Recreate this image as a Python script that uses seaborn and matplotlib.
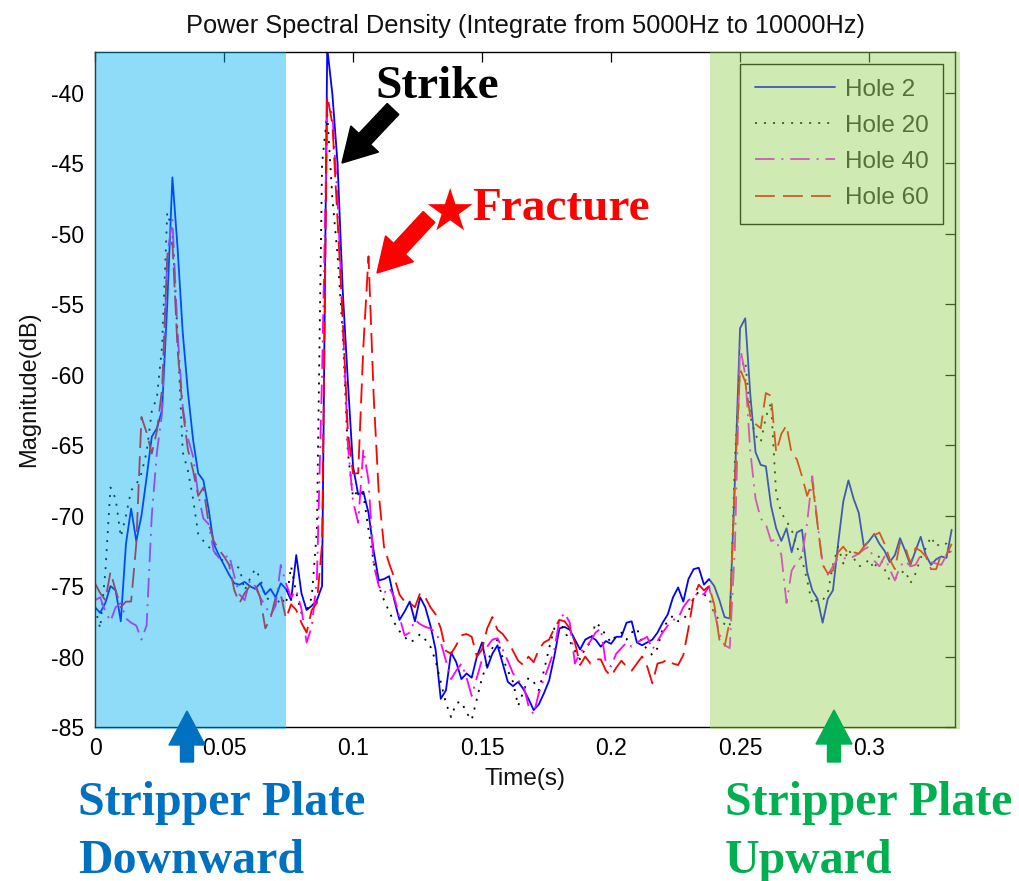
import numpy as np
import pandas as pd
import matplotlib
matplotlib.use("Agg")
import matplotlib.pyplot as plt
import seaborn as sns
from matplotlib.patches import Rectangle, FancyArrow

# ---------------- data (time grid: 0 .. 0.332 s, step 0.002 s) ----------------
time_step = 0.002

hole2 = [
    -76.5, -76.9, -76.2, -75.0, -75.3, -77.5, -72.0, -69.5, -71.8, -70.0,
    -67.3, -64.4, -63.8, -62.5, -55.0, -46.0, -51.0, -57.0, -61.2, -64.6,
    -67.0, -67.5, -69.5, -72.0, -72.8, -73.5, -74.2, -74.8, -74.9, -74.7,
    -75.0, -75.2, -74.8, -75.6, -75.2, -75.8, -74.8, -75.2, -76.0, -72.8,
    -75.5, -76.7, -76.4, -76.0, -75.0, -36.8, -40.1, -45.0, -54.0, -60.5,
    -66.5, -68.5, -68.3, -69.8, -72.5, -74.6, -74.5, -74.3, -76.0, -77.4,
    -76.8, -76.1, -77.5, -75.8, -76.5, -77.8, -79.5, -83.0, -82.4, -79.7,
    -80.4, -81.6, -81.2, -81.5, -80.0, -79.0, -80.8, -79.8, -79.2, -80.5,
    -81.8, -82.1, -81.8, -82.3, -83.0, -83.8, -83.4, -82.6, -81.7, -80.0,
    -78.0, -77.9, -78.1, -78.8, -79.5, -78.8, -78.6, -78.8, -79.3, -78.9,
    -79.1, -78.6, -78.6, -77.6, -77.5, -79.0, -79.2, -79.0, -78.8, -78.3,
    -77.6, -77.0, -75.8, -75.1, -76.1, -74.5, -73.8, -73.7, -74.9, -74.5,
    -75.0, -76.0, -77.2, -77.3, -67.5, -56.7, -56.0, -61.5, -65.5, -66.4,
    -66.5, -69.3, -70.9, -71.8, -70.9, -72.6, -71.2, -71.0, -74.0, -75.3,
    -75.9, -77.6, -75.9, -75.3, -72.0, -69.0, -67.5, -68.8, -69.8, -72.2,
    -71.8, -71.3, -72.0, -72.5, -73.3, -72.8, -71.6, -72.5, -73.5, -72.5,
    -71.5, -72.8, -73.5, -73.1, -72.9, -73.0, -71.0,
]

hole20 = [
    -76.5, -78.0, -74.0, -68.0, -68.8, -71.5, -70.0, -68.2, -67.8, -67.0,
    -65.5, -62.6, -61.6, -58.0, -48.5, -49.8, -57.3, -65.5, -66.8, -68.8,
    -71.3, -71.8, -72.2, -72.6, -72.9, -73.3, -73.5, -73.6, -73.7, -75.3,
    -74.5, -73.8, -74.4, -75.8, -76.0, -76.5, -75.8, -76.3, -73.6, -75.5,
    -76.9, -76.8, -75.8, -71.0, -45.0, -41.5, -47.5, -51.5, -57.0, -65.5,
    -68.7, -68.2, -68.5, -71.0, -73.3, -75.0, -76.0, -76.8, -77.6, -78.2,
    -78.6, -79.0, -78.8, -78.4, -78.8, -79.3, -80.3, -81.8, -83.3, -84.3,
    -83.3, -83.2, -84.0, -84.5, -83.0, -81.5, -80.5, -79.4, -78.8, -80.1,
    -81.0, -81.8, -83.5, -82.5, -81.5, -81.8, -82.4, -81.0, -79.4, -78.0,
    -77.4, -78.2, -78.9, -79.6, -80.2, -79.4, -79.0, -77.6, -77.9, -78.5,
    -79.0, -78.5, -78.3, -78.8, -78.3, -78.0, -79.0, -79.5, -79.9, -79.4,
    -78.0, -77.5, -77.1, -77.5, -77.4, -76.8, -75.8, -75.4, -75.6, -75.8,
    -77.0, -77.4, -77.7, -77.9, -66.0, -59.5, -59.0, -63.0, -64.3, -64.8,
    -63.0, -62.0, -68.5, -69.8, -70.4, -71.0, -72.2, -73.1, -74.6, -76.3,
    -75.9, -76.0, -75.5, -73.5, -72.2, -73.4, -72.4, -73.0, -73.6, -73.5,
    -73.1, -73.8, -72.8, -73.8, -74.6, -74.5, -74.1, -73.9, -74.8, -74.1,
    -73.0, -72.3, -71.5, -72.2, -71.9, -72.0, -73.0,
]

hole40 = [
    -76.0, -75.8, -76.8, -77.5, -76.5, -76.2, -77.3, -77.6, -77.8, -78.8,
    -77.8, -70.0, -65.5, -62.7, -51.5, -49.0, -57.0, -62.3, -64.5, -65.8,
    -68.5, -70.2, -70.6, -72.5, -73.0, -73.0, -72.8, -74.3, -75.6, -76.0,
    -74.6, -75.0, -75.8, -76.4, -77.1, -76.4, -73.5, -74.8, -75.8, -75.3,
    -76.6, -79.0, -77.9, -74.5, -60.0, -40.8, -41.5, -47.5, -56.0, -65.0,
    -69.0, -70.5, -65.3, -67.5, -73.5, -75.0, -75.5, -75.1, -75.8, -77.2,
    -78.5, -78.3, -77.4, -77.7, -77.9, -78.0, -78.3, -79.0, -80.3, -81.6,
    -81.0, -80.5, -81.5, -82.8, -81.5, -80.2, -79.3, -78.8, -78.7, -79.5,
    -80.3, -81.2, -81.7, -82.0, -83.5, -84.1, -82.6, -81.6, -80.6, -79.5,
    -77.4, -76.9, -77.6, -80.5, -79.7, -79.4, -78.9, -78.3, -78.0, -80.5,
    -80.7, -79.8, -79.4, -79.0, -79.3, -79.0, -78.8, -78.6, -79.5, -78.9,
    -78.3, -77.8, -77.4, -77.3, -76.5, -76.0, -75.8, -75.4, -75.6, -75.0,
    -76.8, -78.4, -79.2, -79.4, -72.2, -58.0, -60.0, -65.5, -68.8, -70.2,
    -70.6, -71.8, -71.7, -72.8, -76.2, -73.9, -73.3, -72.9, -70.5, -67.2,
    -70.5, -73.4, -74.2, -73.6, -73.0, -73.0, -73.1, -72.9, -72.7, -72.4,
    -72.2, -73.2, -73.6, -72.9, -73.8, -74.6, -73.6, -73.2, -73.6, -73.5,
    -72.8, -72.8, -73.3, -73.4, -73.5, -72.8, -72.5,
]

hole60 = [
    -74.8, -75.5, -76.0, -74.0, -75.3, -76.5, -76.1, -76.1, -72.0, -63.0,
    -64.1, -65.6, -64.0, -61.0, -51.6, -50.6, -58.2, -62.5, -65.3, -66.8,
    -68.6, -68.0, -70.5, -71.8, -72.4, -72.9, -73.5, -75.3, -76.2, -75.5,
    -75.0, -74.8, -75.8, -78.0, -77.3, -75.8, -75.6, -77.3, -76.3, -76.7,
    -77.6, -78.3, -76.7, -76.2, -72.0, -40.2, -42.2, -49.0, -56.1, -64.0,
    -67.0, -67.0, -58.0, -51.6, -61.5, -68.5, -72.2, -73.4, -74.4, -75.6,
    -76.1, -76.2, -76.5, -75.5, -75.8, -76.5, -77.0, -78.0, -79.6, -79.8,
    -79.2, -78.5, -78.4, -78.6, -80.0, -79.5, -78.0, -77.2, -78.1, -78.4,
    -78.9, -79.6, -80.3, -80.6, -80.0, -80.4, -79.5, -79.0, -78.8, -78.0,
    -77.4, -77.5, -78.0, -79.0, -80.6, -80.0, -80.5, -80.2, -80.2, -81.0,
    -81.4, -80.8, -80.3, -80.7, -81.0, -80.5, -80.0, -80.7, -81.9, -80.5,
    -80.4, -80.2, -80.5, -80.6, -79.9, -78.0, -75.8, -74.9, -75.3, -75.0,
    -76.3, -78.8, -79.3, -77.5, -67.5, -59.6, -60.5, -63.0, -63.5, -63.8,
    -61.3, -61.5, -65.5, -64.2, -63.6, -65.6, -66.0, -67.2, -68.6, -67.6,
    -70.6, -73.5, -74.1, -73.9, -72.6, -72.2, -72.7, -72.6, -72.7, -72.2,
    -71.8, -71.4, -71.2, -72.0, -73.1, -73.8, -71.9, -72.2, -73.4, -72.3,
    -72.5, -72.9, -73.8, -73.8, -72.7, -72.8, -72.0,
]

labels = ["Hole 2", "Hole 20", "Hole 40", "Hole 60"]
colors = ["#0000FF", "#000000", "#FF00FF", "#FF0000"]
x_ticks = [0, 0.05, 0.1, 0.15, 0.2, 0.25, 0.3]
x_tick_labels = ["0", "0.05", "0.1", "0.15", "0.2", "0.25", "0.3"]
y_ticks = [-85, -80, -75, -70, -65, -60, -55, -50, -45, -40]
down_region = [0.0, 0.074]      # stripper plate downward (s)
up_region = [0.2384, 0.3352]    # stripper plate upward (s)

# ---------------- figure ----------------
sns.set_theme(style="white")
plt.rcParams["font.family"] = ["Liberation Sans", "DejaVu Sans"]

W, H = 1019, 881
fig = plt.figure(figsize=(W / 100, H / 100), dpi=100)
fig.patch.set_facecolor("white")
ax = fig.add_axes([95 / W, 1 - 727 / H, 860 / W, 675 / H])
ax.set_facecolor("white")

time = np.arange(len(hole2)) * time_step
wide = pd.DataFrame({"Time": time, "Hole 2": hole2, "Hole 20": hole20,
                     "Hole 40": hole40, "Hole 60": hole60})
df = wide.melt(id_vars="Time", var_name="Hole", value_name="Magnitude")

styles = {
    "Hole 2": "-",
    "Hole 20": (0, (1.1, 3.9)),
    "Hole 40": (0, (10.8, 3.8, 1.1, 3.8)),
    "Hole 60": (0, (11.0, 4.5)),
}
for lab, col in zip(labels, colors):
    sns.lineplot(data=df[df["Hole"] == lab], x="Time", y="Magnitude",
                 color=col, linewidth=1.3, linestyle=styles[lab],
                 errorbar=None, legend=False, ax=ax)

ax.set_xlim(0, 0.3333)
ax.set_ylim(-85, -37.1)
ax.set_xticks(x_ticks)
ax.set_xticklabels(x_tick_labels)
ax.set_yticks(y_ticks)
ax.set_yticklabels([str(v) for v in y_ticks])
ax.tick_params(direction="in", length=7, width=0.9, colors="black",
               top=True, right=True, labelsize=16.5, pad=8)
ax.tick_params(axis="x", pad=7)
for s in ax.spines.values():
    s.set_color("black")
    s.set_linewidth(1.0)

ax.set_xlabel("Time(s)", fontsize=17.5, labelpad=6, color="#111111")
ax.set_ylabel("Magnitude(dB)", fontsize=17, labelpad=8, color="#111111")
ax.set_title("Power Spectral Density (Integrate from 5000Hz to 10000Hz)",
             fontsize=18.3, pad=14, color="#111111")

leg = ax.legend(ax.get_lines()[:4], labels, loc="upper right", fontsize=17.5,
                frameon=True, fancybox=False, edgecolor="black",
                facecolor="white", framealpha=1, handlelength=3.3,
                handletextpad=0.4, labelspacing=0.58, borderaxespad=0.5,
                borderpad=0.6)
leg.get_frame().set_linewidth(1.0)

# shaded regions (semi-transparent overlays on top)
ax.add_patch(Rectangle((down_region[0], -0.003), down_region[1] - down_region[0], 1.003,
                       transform=ax.get_xaxis_transform(), facecolor="#00B0F0",
                       alpha=0.44, edgecolor="none", zorder=10, clip_on=False))
ax.add_patch(Rectangle((up_region[0], -0.003), up_region[1] - up_region[0], 1.003,
                       transform=ax.get_xaxis_transform(), facecolor="#92D050",
                       alpha=0.44, edgecolor="none", zorder=10, clip_on=False))

# ---------------- annotations ----------------
def px(x, y):
    return x / W, 1 - y / H

serif = ["Liberation Serif", "DejaVu Serif"]

def arrow(x0, y0, x1, y1, color, width, hw, hl):
    a = FancyArrow(x0 / 100, (H - y0) / 100, (x1 - x0) / 100, -(y1 - y0) / 100,
                   width=width, head_width=hw, head_length=hl,
                   length_includes_head=True, transform=fig.dpi_scale_trans,
                   color=color, zorder=20)
    fig.add_artist(a)

fig.text(*px(375, 98), "Strike", fontsize=34, fontweight="bold",
         family=serif, color="black", ha="left", va="baseline")
arrow(393, 109, 342, 163, "black", 0.16, 0.38, 0.33)

fig.text(*px(423, 231), "\u2605", fontsize=42, family=["DejaVu Sans"],
         color="#FF0000", ha="left", va="baseline")
fig.text(*px(472, 220), "Fracture", fontsize=34, fontweight="bold",
         family=serif, color="#FF0000", ha="left", va="baseline")
arrow(429, 217, 377, 273, "#FF0000", 0.16, 0.38, 0.33)

arrow(187, 762, 187, 711, "#0070C0", 0.13, 0.36, 0.34)
fig.text(*px(78, 815), "Stripper Plate", fontsize=34.5, fontweight="bold",
         family=serif, color="#0070C0", ha="left", va="baseline")
fig.text(*px(78, 873), "Downward", fontsize=34.5, fontweight="bold",
         family=serif, color="#0070C0", ha="left", va="baseline")

arrow(834, 762, 834, 710, "#00B050", 0.13, 0.36, 0.34)
fig.text(*px(725, 815), "Stripper Plate", fontsize=34.5, fontweight="bold",
         family=serif, color="#00B050", ha="left", va="baseline")
fig.text(*px(725, 873), "Upward", fontsize=34.5, fontweight="bold",
         family=serif, color="#00B050", ha="left", va="baseline")

fig.savefig("out.png", dpi=100, facecolor="white")
